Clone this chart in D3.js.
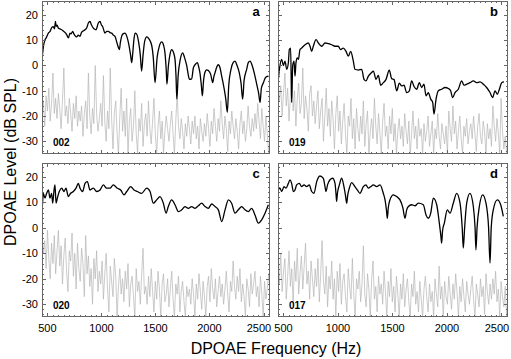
<!DOCTYPE html>
<html><head><meta charset="utf-8">
<script src="https://cdn.jsdelivr.net/npm/d3@7"></script>
<style>body{margin:0;background:#fff} svg{display:block;font-family:Arial,"Liberation Sans",sans-serif}</style>
</head><body><svg id="chart" width="511" height="359"></svg>
<script>
const panelLetters = ["a","b","c","d"];
const panelIds = ["002","019","020","017"];
const yTickValues = [20,10,0,-10,-20,-30];
const xTickValues = [500,1000,1500,2000,2500];
const freqDomain = [450, 2560];
const levelDomain = [-35, 25.5];

// signal (DPOAE) traces: [frequency Hz, level dB SPL]
const signalA = [[453,3.7],[465,8],[478,10.2],[490,11],[509,12.8],[525,13.5],[540,15],[555,15.4],[565,14.5],[575,17.4],[580,15.5],[590,16],[601,14.8],[615,14.5],[632,14.1],[650,13.5],[665,13],[678,12.2],[694,10.9],[709,12.8],[720,12.5],[734,13.5],[745,12.5],[755,11.8],[771,11.3],[785,12],[802,11.5],[815,13],[826,13.5],[848,14.1],[865,15],[879,16.8],[894,17.4],[908,16],[925,14.8],[940,14.3],[950,14.1],[971,16.8],[987,17.4],[1000,16],[1011,15.4],[1033,12.8],[1050,13.5],[1064,13.5],[1080,13],[1095,12.8],[1110,12],[1126,11.5],[1140,9.5],[1150,8],[1166,6.3],[1175,9],[1187,11.5],[1200,12.5],[1218,12.8],[1235,11.5],[1255,8],[1270,4],[1280,1.1],[1290,5],[1300,10],[1311,12.8],[1325,12.5],[1345,9],[1360,4],[1372,-2.2],[1385,4],[1400,9.5],[1419,11.3],[1440,10.5],[1465,8],[1480,3],[1496,-6.8],[1515,3],[1535,7.5],[1558,9.3],[1575,8],[1588,5],[1600,-2],[1606,-7.4],[1620,0],[1635,4.5],[1650,6.3],[1668,5],[1681,2.4],[1690,-4],[1698,-13.3],[1710,-4],[1730,2.5],[1752,5],[1770,3],[1789,0],[1805,-4],[1814,-5.5],[1835,-5.3],[1851,-0.9],[1870,0.5],[1888,1.1],[1900,-0.5],[1912,-3],[1925,-8],[1934,-12],[1945,-6],[1960,-2.5],[1974,-1.7],[1990,-2],[2011,-3.5],[2030,-6.8],[2040,-4.5],[2051,-2.9],[2068,-0.5],[2082,0.3],[2098,-1],[2113,-4.2],[2135,-9],[2150,-13],[2165,-18.5],[2178,-8],[2199,-1.5],[2220,1.2],[2236,1.7],[2255,0],[2276,-2.9],[2292,-7],[2307,-13.3],[2320,-6],[2344,-1.5],[2360,1.2],[2375,1.7],[2395,0],[2421,-4.2],[2440,-8],[2455,-11],[2468,-14.6],[2480,-9],[2499,-6.8],[2515,-5],[2529,-4.4],[2545,-4.2]];

const signalB = [[453,-5.5],[468,0],[484,2.4],[499,0],[514,1.7],[530,-1.5],[545,1.1],[554,6.3],[566,6.9],[575,-14.6],[585,0],[597,1.7],[606,-4.2],[615,1.1],[627,3.0],[637,2.4],[652,6.3],[667,6.9],[698,8.2],[728,8.9],[744,7.6],[759,5.6],[774,7.6],[799,10.2],[820,8.9],[851,7.6],[881,8.9],[912,8.6],[942,8.2],[973,7.6],[1003,7.6],[1025,6.3],[1049,6.9],[1074,5.6],[1095,3.7],[1117,5.6],[1141,1.7],[1156,-1.5],[1187,-1.8],[1218,-1.5],[1239,-5.5],[1257,-6.1],[1279,-4.2],[1309,-2.8],[1325,-2.2],[1349,-5.5],[1370,-3.9],[1392,-7.8],[1416,-6.8],[1441,-5.5],[1471,-1.8],[1493,-5.2],[1514,-5.5],[1539,-10.0],[1563,-7.0],[1585,-8.1],[1606,-7.8],[1630,-10.7],[1655,-10.0],[1676,-6.1],[1698,-8.3],[1722,-9.4],[1747,-6.8],[1768,-8.7],[1789,-7.4],[1808,-12.0],[1829,-10.7],[1851,-13.3],[1869,-14.6],[1881,-19.2],[1900,-13.3],[1921,-10.0],[1951,-9.4],[1982,-8.7],[2013,-9.1],[2034,-10.0],[2052,-12.7],[2074,-10.7],[2104,-9.4],[2135,-6.1],[2156,-7.8],[2181,-7.4],[2211,-6.8],[2242,-6.1],[2272,-6.8],[2303,-6.5],[2334,-7.4],[2364,-8.7],[2395,-10.7],[2419,-12.7],[2441,-10.0],[2462,-11.4],[2481,-9.4],[2502,-6.8],[2523,-6.5]];

const signalC = [[452,7.7],[455,9.7],[462,13.6],[478,11.7],[493,13.6],[509,14.9],[524,11.7],[539,13.6],[549,9.7],[561,14.7],[570,16.9],[580,9.7],[592,11.7],[610,14.3],[632,15.6],[654,14.3],[672,15.6],[694,12.3],[715,13.6],[740,14.3],[765,15.6],[786,17.5],[802,15.6],[826,14.3],[848,17.5],[870,18.2],[894,14.9],[925,15.6],[956,14.3],[987,14.9],[1018,16.9],[1048,15.6],[1079,15.6],[1110,16.9],[1147,15.6],[1178,14.9],[1209,13.0],[1234,14.3],[1271,16.2],[1301,14.9],[1332,14.3],[1372,13.6],[1419,15.6],[1450,14.3],[1480,9.7],[1511,11.0],[1542,12.3],[1573,9.7],[1598,5.8],[1619,8.4],[1650,11.0],[1681,9.1],[1712,6.4],[1743,7.1],[1773,8.4],[1804,7.7],[1835,8.4],[1866,7.7],[1897,8.7],[1928,9.7],[1959,8.4],[1989,7.7],[2020,9.4],[2051,8.4],[2082,7.1],[2113,2.5],[2144,7.1],[2175,11.0],[2205,9.7],[2236,5.8],[2267,7.1],[2298,8.4],[2329,7.1],[2360,6.4],[2390,7.7],[2421,5.1],[2452,1.9],[2483,3.2],[2514,5.8],[2545,9.1]];

const signalD = [[453,14.9],[468,15.6],[484,14.3],[505,16.2],[523,15.6],[545,17.5],[560,18.9],[575,17.5],[591,14.3],[606,14.9],[621,16.9],[646,17.5],[667,16.2],[689,16.9],[713,16.2],[737,16.9],[759,14.3],[780,13.6],[805,18.2],[835,20.4],[866,19.5],[880,16.5],[890,14.3],[905,17],[927,18.9],[952,19.5],[973,17.5],[982,13.5],[988,10.4],[995,13.5],[1013,16.9],[1034,19.5],[1055,16.2],[1070,12.5],[1080,9.7],[1090,13],[1104,15.6],[1126,17.8],[1156,16.2],[1178,14.9],[1202,13.6],[1233,16.2],[1257,16.9],[1279,15.6],[1300,16.2],[1325,16.9],[1355,16.2],[1386,16.9],[1416,13.6],[1432,11],[1445,7],[1453,3.8],[1462,8],[1477,11.0],[1508,13.0],[1539,12.3],[1569,11.0],[1595,8],[1615,3.8],[1630,7],[1646,8.4],[1676,9.1],[1707,8.7],[1737,9.7],[1783,9.1],[1808,5.1],[1829,3.8],[1851,5.8],[1875,11.7],[1906,9.1],[1930,1.9],[1945,-3.5],[1951,-6.0],[1960,-1],[1976,1.9],[2003,7.1],[2028,5.8],[2058,9.7],[2089,13.6],[2120,9.7],[2140,0],[2150,-7.9],[2162,0],[2181,9.7],[2211,13.6],[2242,8.4],[2258,0],[2266,-8.6],[2276,0],[2297,8.4],[2328,13.0],[2358,9.7],[2382,0],[2395,-13.8],[2406,0],[2425,7.1],[2462,11.0],[2493,9.1],[2517,4.5]];

// noise floor traces, evenly sampled from 450 to 2560 Hz (dB SPL)
const noiseA = [-20,-14,-24,-12,-18,-9,-22,-15,-3,-19,-13,-21,
-11,-17,-25,-14,-1,-20,-16,-23,-13,-19,-26,-15,-21,-12,-24,-18,
-22,-16,-28,-19,-14,-25,-3,-20,-27,-17,-23,0,-19,-26,-21,-15,
-24,-4,-22,-30,-18,-25,-1,-21,-33,-19,-14,-27,-35,-20,-9,-26,
-18,-28,-13,-35,-22,-17,-30,-24,-10,-27,-35,-21,-26,-15,-32,-23,
-19,-28,-14,-25,-31,-22,-13,-27,-35,-24,-18,-29,-22,-35,-26,-20,
-25,-30,-23,-18,-27,-35,-22,-11,-24,-29,-21,-26,-33,-23,-28,-20,
-25,-31,-22,-27,-20,-29,-24,-33,-21,-26,-30,-23,-28,-19,-25,-32,
-22,-27,-17,-24,-30,-21,-26,-14,-23,-29,-20,-25,-34,-22,-27,-18,
-24,-29,-21,-26,-33,-23,-18,-27,-22,-30,-25,-16,-24,-28,-21,-26,
-19,-25,-15,-22,-29,-17,-24,-30,-20,-27,-35,-28];
const noiseB = [-5,-14,-8,-20,-11,-3,-16,-9,-22,-12,-6,-18,
-10,-24,-13,-7,-19,-15,-1,-21,-12,-17,-26,-11,-8,-20,-14,-23,
-16,-10,-25,-18,-13,-30,-20,-9,-24,-17,-28,-14,-21,-33,-19,-12,
-26,-18,-31,-22,-15,-27,-35,-20,-24,-13,-29,-21,-33,-17,-25,-30,
-20,-27,-14,-32,-23,-18,-35,-26,-21,-29,-13,-24,-31,-19,-27,-35,
-22,-15,-28,-24,-33,-20,-27,-17,-30,-23,-35,-26,-21,-29,-24,-32,
-19,-26,-31,-22,-35,-27,-18,-29,-24,-33,-21,-28,-25,-35,-23,-30,
-26,-20,-32,-27,-22,-35,-25,-29,-19,-28,-33,-23,-27,-31,-24,-35,
-18,-25,-30,-16,-27,-22,-33,-26,-20,-29,-35,-24,-28,-21,-31,-26,
-23,-29,-20,-27,-34,-24,-19,-28,-31,-22,-26,-35,-23,-29,-25,-32,
-16,-24,-30,-21,-27,-35,-13,-26,-33,-28,-35,-30];
const noiseC = [-2,-10,-5,-16,-1,-12,-20,-6,-14,-3,-18,-9,
-1,-15,-7,-22,-11,-4,-17,-25,-9,-13,-2,-19,-10,-24,-6,-16,
-21,-8,-14,-27,-3,-18,-11,-23,-16,-30,-12,-20,-9,-25,-17,-22,
-13,-28,-18,-10,-24,-33,-15,-21,-27,-12,-19,-35,-23,-16,-26,-20,
-29,-17,-24,-14,-31,-22,-19,-27,-35,-16,-25,-21,-30,-18,-8,-26,
-23,-30,-19,-27,-16,-25,-33,-21,-28,-17,-24,-35,-22,-18,-29,-26,
-20,-31,-24,-17,-28,-35,-22,-26,-19,-33,-25,-21,-29,-35,-23,-27,
-24,-30,-20,-26,-35,-22,-28,-18,-25,-32,-21,-27,-35,-23,-19,-29,
-16,-24,-28,-20,-31,-25,-19,-27,-22,-30,-24,-17,-26,-33,-21,-25,
-13,-23,-28,-19,-25,-16,-29,-22,-27,-35,-20,-24,-31,-18,-26,-22,
-17,-27,-23,-31,-19,-26,-35,-21,-28,-24,-18,-25];
const noiseD = [-14,-22,-10,-25,-17,-12,-28,-19,-9,-23,-16,-30,
-13,-21,-8,-26,-18,-11,-24,-15,-6,-22,-17,-28,-13,-20,-27,-16,
-23,-12,-29,-18,-5,-21,-26,-15,-31,-19,-24,-13,-28,-20,-35,-17,
-25,-14,-30,-21,-18,-27,-33,-16,-23,-28,-12,-26,-35,-20,-24,-17,
-29,-22,-7,-26,-31,-18,-24,-35,-20,-13,-28,-23,-33,-19,-26,-22,
-30,-17,-25,-35,-21,-27,-16,-29,-23,-33,-19,-26,-35,-22,-28,-18,
-31,-24,-20,-29,-35,-22,-27,-17,-30,-25,-33,-21,-28,-35,-24,-19,
-27,-33,-22,-29,-25,-35,-20,-26,-31,-15,-28,-23,-35,-21,-27,-30,
-19,-26,-32,-22,-28,-18,-25,-35,-23,-29,-20,-27,-33,-21,-26,-30,
-24,-19,-28,-35,-22,-26,-31,-20,-27,-23,-34,-18,-25,-30,-22,-28,
-20,-26,-17,-29,-24,-35,-21,-27,-31,-23,-35,-28];

const signals = [signalA, signalB, signalC, signalD];
const noises = [noiseA, noiseB, noiseC, noiseD];

const boxes = [
  {x0:42, x1:270, y0:1, y1:154, ylab:true, xlab:false},
  {x0:278, x1:508, y0:1, y1:154, ylab:false, xlab:false},
  {x0:42, x1:270, y0:163, y1:317, ylab:true, xlab:true},
  {x0:278, x1:508, y0:163, y1:317, ylab:false, xlab:true}
];

const svg = d3.select("#chart");
const frameColor = "#666";

boxes.forEach((b, i) => {
  const x = d3.scaleLinear().domain(freqDomain).range([b.x0, b.x1]);
  const y = d3.scaleLinear().domain(levelDomain).range([b.y1, b.y0]);
  const g = svg.append("g");
  const clipId = "clip" + i;
  svg.append("clipPath").attr("id", clipId).append("rect")
    .attr("x", b.x0).attr("y", b.y0).attr("width", b.x1 - b.x0).attr("height", b.y1 - b.y0);

  // noise
  const nz = noises[i];
  const step = (freqDomain[1] - freqDomain[0]) / (nz.length - 1);
  const line = d3.line().x(d => x(d[0])).y(d => y(d[1]));
  g.append("path")
    .datum(nz.map((v, k) => [freqDomain[0] + k * step, v]))
    .attr("clip-path", `url(#${clipId})`)
    .attr("fill", "none").attr("stroke", "#b5b5b5").attr("stroke-width", 0.7)
    .attr("d", line);

  // signal
  g.append("path")
    .datum(signals[i])
    .attr("clip-path", `url(#${clipId})`)
    .attr("fill", "none").attr("stroke", "#000").attr("stroke-width", 1.3)
    .attr("stroke-linejoin", "round")
    .attr("d", d3.line().curve(d3.curveMonotoneX).x(d => x(d[0])).y(d => y(d[1])));

  // frame
  g.append("rect").attr("x", b.x0 + 0.5).attr("y", b.y0 + 0.5)
    .attr("width", b.x1 - b.x0 - 1).attr("height", b.y1 - b.y0 - 1)
    .attr("fill", "none").attr("stroke", frameColor).attr("stroke-width", 1);

  // y ticks (inside, both sides)
  d3.range(-34, 26, 2).forEach(v => {
    const len = v % 10 === 0 ? 4 : 2;
    const yy = Math.round(y(v)) + 0.5;
    g.append("line").attr("x1", b.x0).attr("x2", b.x0 + len).attr("y1", yy).attr("y2", yy).attr("stroke", frameColor);
    g.append("line").attr("x1", b.x1).attr("x2", b.x1 - len).attr("y1", yy).attr("y2", yy).attr("stroke", frameColor);
  });
  // x ticks (inside, top and bottom)
  d3.range(500, 2560, 50).forEach(v => {
    const len = v % 500 === 0 ? 4 : 2;
    const xx = Math.round(x(v)) + 0.5;
    g.append("line").attr("y1", b.y1).attr("y2", b.y1 - len).attr("x1", xx).attr("x2", xx).attr("stroke", frameColor);
    g.append("line").attr("y1", b.y0).attr("y2", b.y0 + len).attr("x1", xx).attr("x2", xx).attr("stroke", frameColor);
  });

  if (b.ylab) {
    yTickValues.forEach(v => {
      g.append("text").attr("x", b.x0 - 4).attr("y", y(v) + 4)
        .attr("text-anchor", "end").attr("font-size", 11).attr("fill", "#000").text(v);
    });
  }
  if (b.xlab) {
    xTickValues.forEach(v => {
      g.append("text").attr("x", Math.min(x(v), b.x1 - 11)).attr("y", b.y1 + 15)
        .attr("text-anchor", "middle").attr("font-size", 11).attr("fill", "#000").text(v);
    });
  }
  // panel letter
  g.append("text").attr("x", b.x1 - 14).attr("y", b.y0 + 15)
    .attr("text-anchor", "middle").attr("font-size", 13).attr("font-weight", "bold").text(panelLetters[i]);
  // subject id
  g.append("text").attr("x", b.x0 + 11).attr("y", b.y1 - 8)
    .attr("font-size", 10).attr("font-weight", "bold").text(panelIds[i]);
});

svg.append("text").attr("x", 276).attr("y", 354).attr("text-anchor", "middle")
  .attr("font-size", 16).text("DPOAE Frequency (Hz)");
svg.append("text").attr("transform", "translate(16,162) rotate(-90)").attr("text-anchor", "middle")
  .attr("font-size", 16).text("DPOAE Level (dB SPL)");
</script></body></html>
